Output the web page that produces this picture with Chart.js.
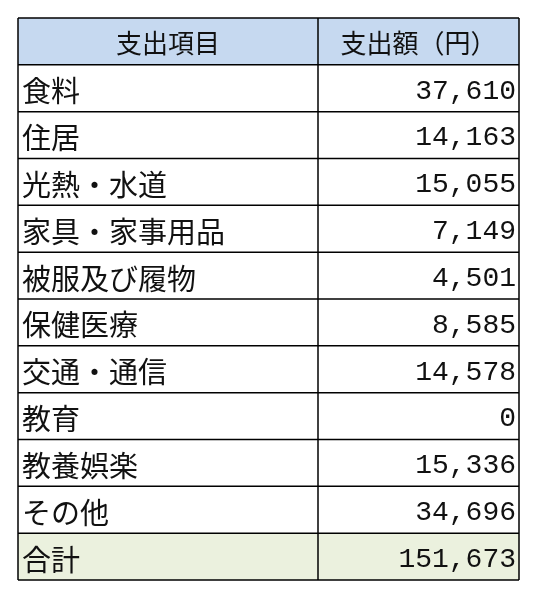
<!DOCTYPE html>
<html><head><meta charset="utf-8">
<script src="https://cdn.jsdelivr.net/npm/chart.js@4"></script>
<style>html,body{margin:0;background:#fff}#wrap{width:540px;height:597px}</style>
</head><body><div id="wrap"><canvas id="c"></canvas></div>
<script>
const headers = ['支出項目', '支出額（円）'];
const items = ['食料', '住居', '光熱・水道', '家具・家事用品', '被服及び履物', '保健医療', '交通・通信', '教育', '教養娯楽', 'その他'];
const amounts = [37610, 14163, 15055, 7149, 4501, 8585, 14578, 0, 15336, 34696];
const totalLabel = '合計';
const total = 151673;

const rows = [headers[0]].concat(items, [totalLabel]);

// draws the table cells on the chart's own scales
const tablePlugin = {
    id: 'table',
    afterDraw(chart) {
        const ctx = chart.ctx;
        const x = chart.scales.x, y = chart.scales.y;
        const left = x.getPixelForValue(0), right = x.getPixelForValue(501), split = x.getPixelForValue(300);
        const step = Math.abs(y.getPixelForValue(1) - y.getPixelForValue(0));
        ctx.save();
        rows.forEach((label, i) => {
            const cy = y.getPixelForValue(i), top = cy - step / 2;
            if (i === 0) { ctx.fillStyle = '#c6d9f0'; ctx.fillRect(left, top, right - left, step); }
            if (i === rows.length - 1) { ctx.fillStyle = '#ebf1de'; ctx.fillRect(left, top, right - left, step); }
            ctx.fillStyle = '#111';
            ctx.textBaseline = 'middle';
            let val;
            if (i === 0) val = headers[1];
            else if (i === rows.length - 1) val = total.toLocaleString('en-US');
            else val = amounts[i - 1].toLocaleString('en-US');
            if (i === 0) {
                ctx.font = '26px "Noto Sans CJK JP"';
                ctx.textAlign = 'center';
                ctx.fillText(label, (left + split) / 2, cy + 2);
                ctx.fillText(val, (split + right) / 2, cy + 2);
            } else {
                ctx.font = '29px "Noto Sans CJK JP"';
                ctx.textAlign = 'left';
                ctx.fillText(label, left + 4, cy + 3);
                ctx.textAlign = 'right';
                ctx.font = '28px "Liberation Mono"';
                ctx.fillText(val, right - 3, cy + 3);
            }
        });
        ctx.strokeStyle = '#000';
        ctx.lineWidth = 1.5;
        for (let i = 0; i <= rows.length; i++) {
            const py = y.getPixelForValue(i) - step / 2;
            ctx.beginPath(); ctx.moveTo(left, py); ctx.lineTo(right, py); ctx.stroke();
        }
        const t = y.getPixelForValue(0) - step / 2, b = y.getPixelForValue(rows.length - 1) + step / 2;
        [left, split, right].forEach(px => { ctx.beginPath(); ctx.moveTo(px, t); ctx.lineTo(px, b); ctx.stroke(); });
        ctx.restore();
    }
};

new Chart(document.getElementById('c'), {
    type: 'bar',
    data: { labels: rows, datasets: [{ data: rows.map(() => 0), backgroundColor: 'transparent' }] },
    options: {
        indexAxis: 'y',
        responsive: true,
        maintainAspectRatio: false,
        animation: false,
        layout: { padding: { left: 18, right: 21, top: 18, bottom: 17 } },
        plugins: { legend: { display: false }, tooltip: { enabled: false } },
        scales: {
            x: { display: false, min: 0, max: 501 },
            y: { display: false, offset: true }
        }
    },
    plugins: [tablePlugin]
});
</script></body></html>
